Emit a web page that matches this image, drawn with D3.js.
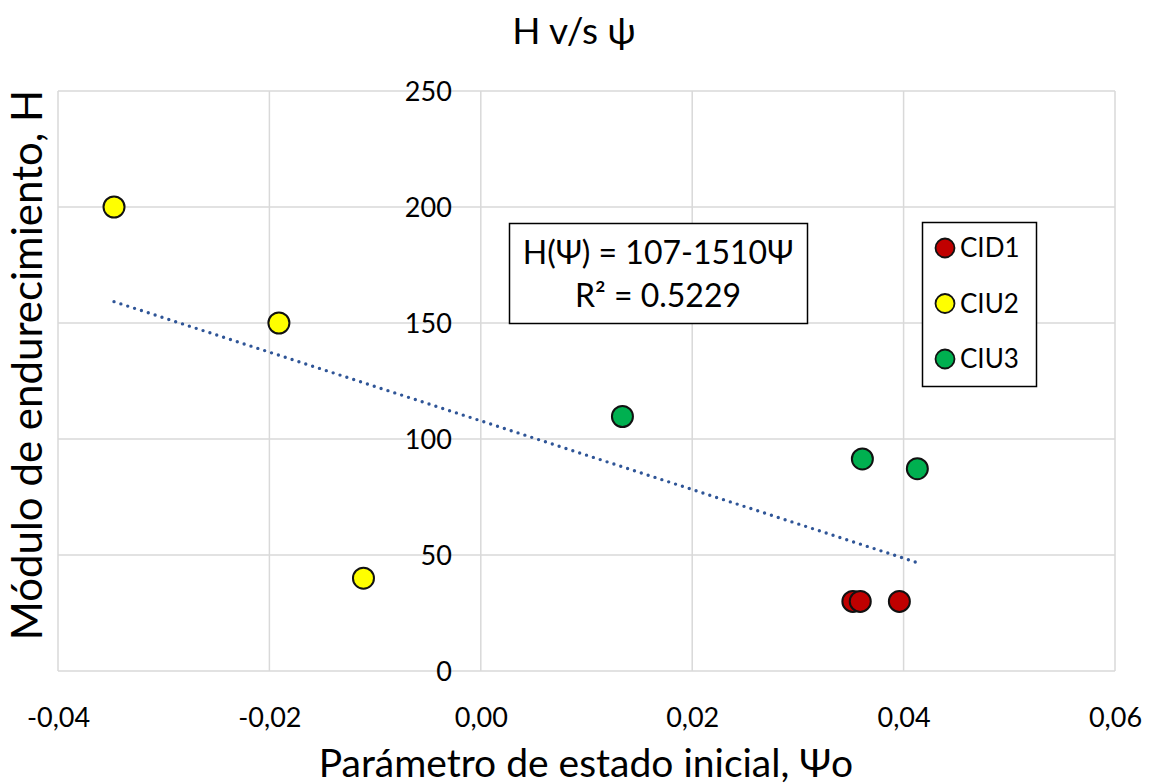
<!DOCTYPE html>
<html>
<head>
<meta charset="utf-8">
<script src="https://cdn.jsdelivr.net/npm/d3@7"></script>
<style>
  body { margin: 0; background: #fff; }
  svg text { font-family: Lato, "Open Sans", sans-serif; fill: #000; }
</style>
</head>
<body>
<div id="chart"></div>
<script>
// series: initial state parameter (psi) vs hardening modulus (H)
var seriesNames = ["CID1", "CIU2", "CIU3"];
var seriesColors = ["#C00000", "#FFFF00", "#00B050"];

var cid1Psi = [0.0352, 0.0359, 0.0396];
var cid1H = [30, 30, 30];
var ciu2Psi = [-0.0347, -0.0191, -0.0111];
var ciu2H = [200, 150, 40];
var ciu3Psi = [0.0134, 0.0361, 0.0413];
var ciu3H = [109.7, 91.4, 87.2];

var xTicks = [-0.04, -0.02, 0.00, 0.02, 0.04, 0.06];
var yTicks = [0, 50, 100, 150, 200, 250];

var equationLines = ["H(\u03A8) = 107-1510\u03A8", "R\u00B2 = 0.5229"];

var w = 1152, h = 784;
var pLeft = 58, pRight = 1115, pTop = 91, pBottom = 671;

var x = d3.scaleLinear().domain([-0.04, 0.06]).range([pLeft, pRight]);
var y = d3.scaleLinear().domain([0, 250]).range([pBottom, pTop]);

var loc = d3.formatLocale({decimal: ",", thousands: ".", grouping: [3], currency: ["", ""], minus: "-"});
var fmtX = loc.format(".2f");

var svg = d3.select("#chart")
    .append("svg")
    .attr("width", w)
    .attr("height", h);

// grid
svg.append("g")
    .selectAll("line")
    .data(xTicks)
    .enter()
    .append("line")
    .attr("x1", function (d) { return x(d); })
    .attr("x2", function (d) { return x(d); })
    .attr("y1", pTop)
    .attr("y2", pBottom)
    .style("stroke", "#d9d9d9")
    .style("stroke-width", 1.5);

svg.append("g")
    .selectAll("line")
    .data(yTicks)
    .enter()
    .append("line")
    .attr("x1", pLeft)
    .attr("x2", pRight)
    .attr("y1", function (d) { return y(d); })
    .attr("y2", function (d) { return y(d); })
    .style("stroke", "#d9d9d9")
    .style("stroke-width", 1.5);

// axes (labels only)
var yAxis = svg.append("g")
    .attr("transform", "translate(" + x(0) + ",0)")
    .call(d3.axisLeft(y).tickValues(yTicks).tickSize(0).tickPadding(29));
yAxis.select(".domain").remove();
yAxis.selectAll("text")
    .style("font-size", "27px")
    .attr("dy", "0.36em");

var xAxis = svg.append("g")
    .attr("transform", "translate(0," + pBottom + ")")
    .call(d3.axisBottom(x).tickValues(xTicks).tickSize(0).tickPadding(37).tickFormat(fmtX));
xAxis.select(".domain").remove();
xAxis.selectAll("text")
    .style("font-size", "27px");

svg.selectAll(".tick text").style("font-family", "Lato, sans-serif").attr("fill", "#000");

// trendline: least squares over all points
var allPsi = cid1Psi.concat(ciu2Psi, ciu3Psi);
var allH = cid1H.concat(ciu2H, ciu3H);
var mx = d3.mean(allPsi), my = d3.mean(allH);
var sxy = d3.sum(allPsi, function (v, i) { return (v - mx) * (allH[i] - my); });
var sxx = d3.sum(allPsi, function (v) { return (v - mx) * (v - mx); });
var slope = sxy / sxx, icpt = my - slope * mx;
var ext = d3.extent(allPsi);

svg.append("line")
    .attr("x1", x(ext[0]))
    .attr("y1", y(icpt + slope * ext[0]))
    .attr("x2", x(ext[1]))
    .attr("y2", y(icpt + slope * ext[1]))
    .style("stroke", "#2F5597")
    .style("stroke-width", 3.4)
    .style("stroke-linecap", "round")
    .style("stroke-dasharray", "0,7.2");

// points
var series = [
    {psi: cid1Psi, h: cid1H},
    {psi: ciu2Psi, h: ciu2H},
    {psi: ciu3Psi, h: ciu3H}
];

series.forEach(function (s, k) {
    svg.append("g")
        .selectAll("circle")
        .data(s.psi)
        .enter()
        .append("circle")
        .attr("cx", function (d) { return x(d); })
        .attr("cy", function (d, i) { return y(s.h[i]); })
        .attr("r", 10.5)
        .style("fill", seriesColors[k])
        .style("stroke", "#111")
        .style("stroke-width", 2);
});

// equation box
var eq = svg.append("g");
eq.append("rect")
    .attr("x", 509.5).attr("y", 223.5)
    .attr("width", 298).attr("height", 100)
    .style("fill", "#fff")
    .style("stroke", "#000")
    .style("stroke-width", 1.5);
eq.selectAll("text")
    .data(equationLines)
    .enter()
    .append("text")
    .attr("x", 658)
    .attr("y", function (d, i) { return 264 + i * 43; })
    .attr("text-anchor", "middle")
    .style("font-size", "32px")
    .text(function (d) { return d; });

// legend
var lg = svg.append("g");
lg.append("rect")
    .attr("x", 922.5).attr("y", 222.5)
    .attr("width", 114).attr("height", 164)
    .style("fill", "#fff")
    .style("stroke", "#000")
    .style("stroke-width", 1.5);
var items = lg.selectAll("g")
    .data(seriesNames)
    .enter()
    .append("g")
    .attr("transform", function (d, i) { return "translate(0," + (248 + i * 55.5) + ")"; });
items.append("circle")
    .attr("cx", 945)
    .attr("r", 9.5)
    .style("fill", function (d, i) { return seriesColors[i]; })
    .style("stroke", "#111")
    .style("stroke-width", 1.8);
items.append("text")
    .attr("x", 960)
    .attr("dy", "0.36em")
    .style("font-size", "26px")
    .text(function (d) { return d; });

// titles
svg.append("text")
    .attr("x", 574).attr("y", 44)
    .attr("text-anchor", "middle")
    .style("font-size", "37px")
    .text("H v/s \u03C8");

svg.append("text")
    .attr("x", 586).attr("y", 777)
    .attr("text-anchor", "middle")
    .style("font-size", "39px")
    .text("Par\u00E1metro de estado inicial, \u03A8o");

svg.append("text")
    .attr("transform", "translate(42,365) rotate(-90)")
    .attr("text-anchor", "middle")
    .style("font-size", "42px")
    .text("M\u00F3dulo de endurecimiento, H");
</script>
</body>
</html>
